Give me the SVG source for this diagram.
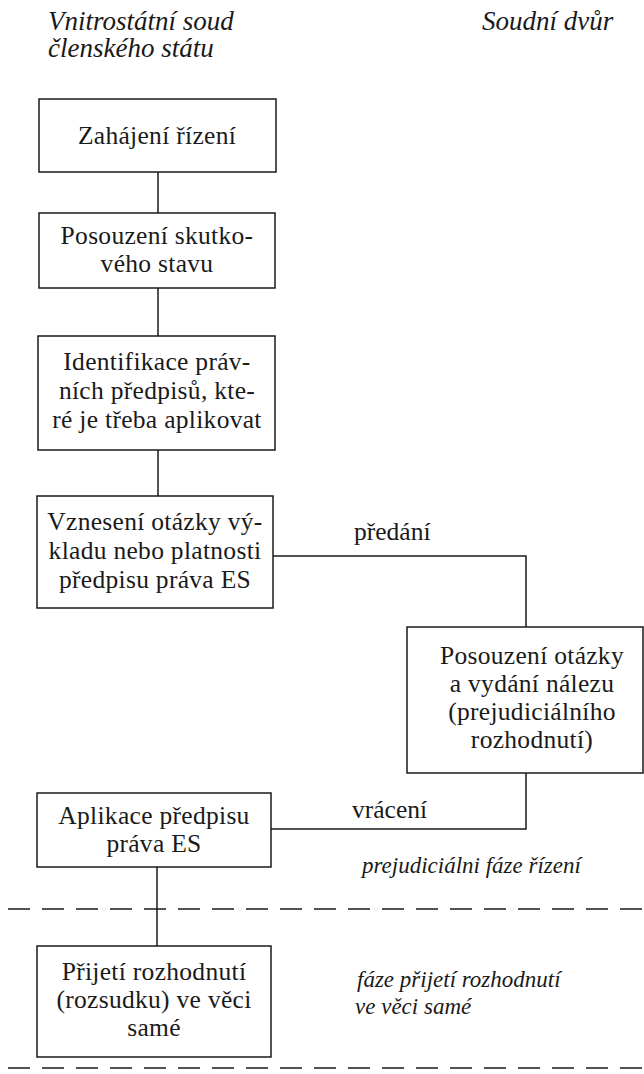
<svg xmlns="http://www.w3.org/2000/svg" width="644" height="1074" viewBox="0 0 644 1074">
<style>
text{font-family:'Liberation Serif','DejaVu Serif',serif;fill:#1a1a1a}
.box{fill:#fff;stroke:#1a1a1a;stroke-width:1.5}
.t{font-size:25.5px;letter-spacing:0.3px;text-anchor:middle}
.it{font-style:italic;font-size:27px}
.sm{font-style:italic;font-size:23px}
.lbl{font-size:25.5px}
.ln{fill:none;stroke:#1a1a1a;stroke-width:1.5}
.dash{fill:none;stroke:#1a1a1a;stroke-width:1.5;stroke-dasharray:22 12}
</style>
<rect width="644" height="1074" fill="#fff"/>
<g id="headers">
<text class="it" x="48" y="30">Vnitrostátní soud</text>
<text class="it" x="48" y="57">členského státu</text>
<text class="it" x="482" y="30">Soudní dvůr</text>
</g>
<g id="connectors">
<line class="ln" x1="158" y1="172" x2="158" y2="213"/>
<line class="ln" x1="158" y1="288" x2="158" y2="336"/>
<line class="ln" x1="158" y1="450" x2="158" y2="496"/>
<polyline class="ln" points="273,556 526,556 526,627"/>
<polyline class="ln" points="526,773 526,829 271,829"/>
<line class="ln" x1="157" y1="867" x2="157" y2="946"/>
<text class="lbl" x="354" y="540">předání</text>
<text class="lbl" x="352" y="818">vrácení</text>
</g>
<g id="phases">
<line class="dash" x1="8" y1="909" x2="644" y2="909"/>
<line class="dash" x1="8" y1="1068" x2="644" y2="1068"/>
<text class="sm" x="362" y="873">prejudiciálni fáze řízení</text>
<text class="sm" x="357" y="987">fáze přijetí rozhodnutí</text>
<text class="sm" x="355" y="1014">ve věci samé</text>
</g>
<g id="n1">
<rect class="box" x="39" y="99" width="237" height="73"/>
<text class="t" x="157" y="144">Zahájení řízení</text>
</g>
<g id="n2">
<rect class="box" x="39" y="213" width="236" height="75"/>
<text class="t" x="157" y="244">Posouzení skutko-</text>
<text class="t" x="157" y="272">vého stavu</text>
</g>
<g id="n3">
<rect class="box" x="38" y="336" width="237" height="114"/>
<text class="t" x="157" y="370">Identifikace práv-</text>
<text class="t" x="157" y="399">ních předpisů, kte-</text>
<text class="t" x="157" y="428">ré je třeba aplikovat</text>
</g>
<g id="n4">
<rect class="box" x="37" y="496" width="236" height="112"/>
<text class="t" x="155" y="530">Vznesení otázky vý-</text>
<text class="t" x="155" y="559">kladu nebo platnosti</text>
<text class="t" x="155" y="588">předpisu práva ES</text>
</g>
<g id="n5">
<rect class="box" x="407" y="627" width="236" height="146"/>
<text class="t" x="532" y="664">Posouzení otázky</text>
<text class="t" x="532" y="692">a vydání nálezu</text>
<text class="t" x="532" y="720">(prejudiciálního</text>
<text class="t" x="532" y="748">rozhodnutí)</text>
</g>
<g id="n6">
<rect class="box" x="37" y="793" width="234" height="74"/>
<text class="t" x="154" y="824">Aplikace předpisu</text>
<text class="t" x="154" y="852">práva ES</text>
</g>
<g id="n7">
<rect class="box" x="37" y="946" width="234" height="111"/>
<text class="t" x="154" y="980">Přijetí rozhodnutí</text>
<text class="t" x="154" y="1008">(rozsudku) ve věci</text>
<text class="t" x="154" y="1036">samé</text>
</g>
</svg>
